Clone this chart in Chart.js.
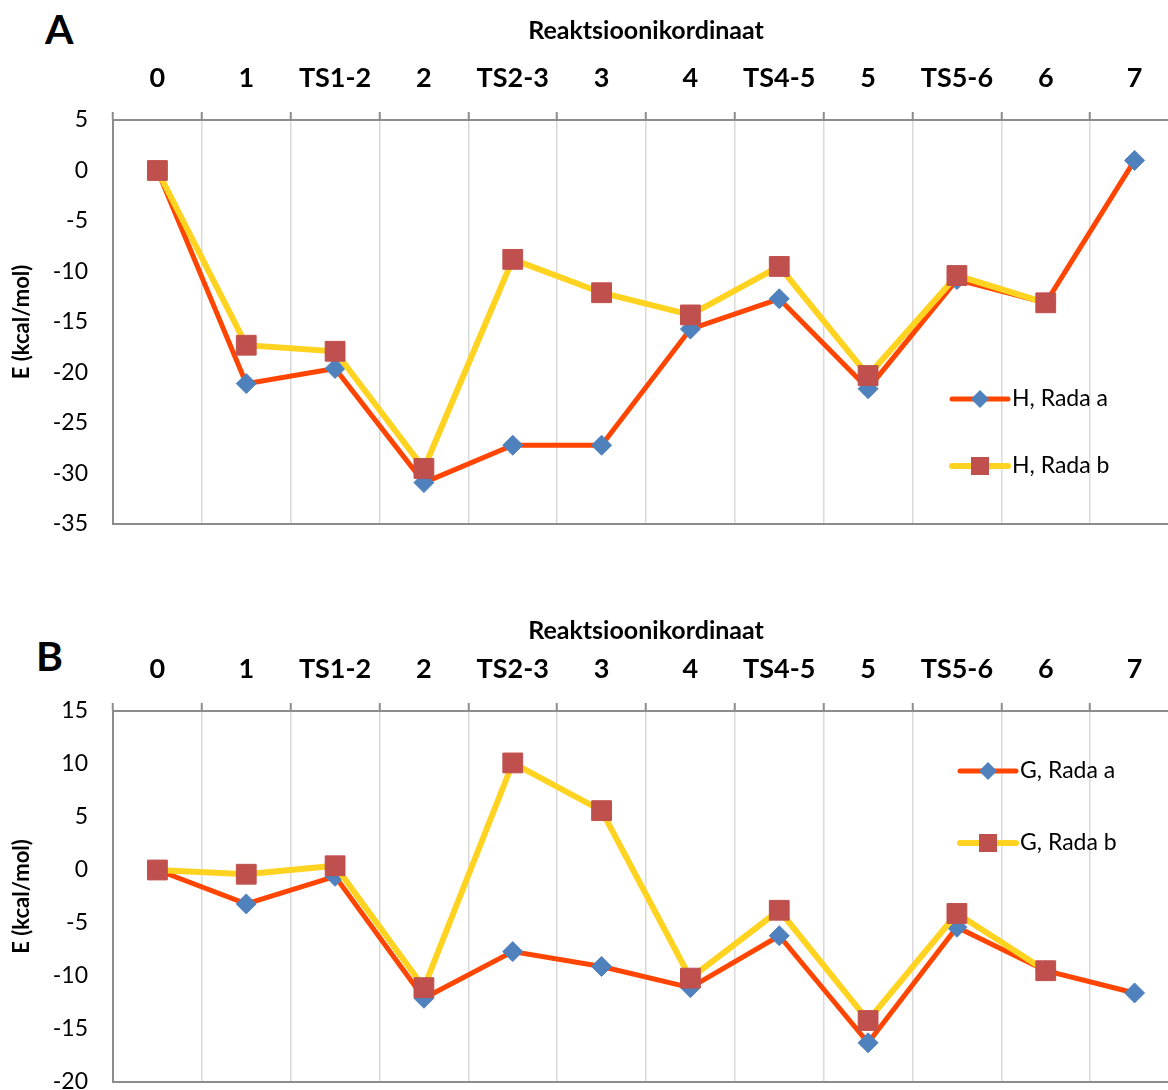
<!DOCTYPE html>
<html>
<head>
  <title>Reaktsioonikordinaat</title>
  <script src="https://cdn.jsdelivr.net/npm/chart.js@4/dist/chart.umd.min.js"></script>
  <style>
    html, body { margin: 0; padding: 0; background: #fff; overflow: hidden; }
    #wrap { position: relative; width: 1168px; height: 1090px; overflow: hidden; }
    canvas { position: absolute; left: 0; }
    .panel { position: absolute; font-family: Lato, sans-serif; font-weight: bold; font-size: 41px; line-height: 1; color: #000; }
  </style>
</head>
<body>
<div id="wrap">
  <div class="panel" style="left:45px; top:8px;">A</div>
  <canvas id="chartA" width="1180" height="545" style="top:0px"></canvas>
  <div class="panel" style="left:36px; top:635px;">B</div>
  <canvas id="chartB" width="1180" height="490" style="top:600px"></canvas>
</div>
<script>
  // reaction coordinate
  var steps = ['0', '1', 'TS1-2', '2', 'TS2-3', '3', '4', 'TS4-5', '5', 'TS5-6', '6', '7'];

  // enthalpy, kcal/mol
  var hRadaA = [0, -21.1, -19.6, -30.9, -27.2, -27.2, -15.7, -12.7, -21.6, -10.8, -13.1, 1.0];
  var hRadaB = [0, -17.3, -17.9, -29.5, -8.8, -12.1, -14.3, -9.5, -20.3, -10.4, -13.1, null];

  // free energy, kcal/mol
  var gRadaA = [0, -3.2, -0.6, -12.1, -7.7, -9.1, -11.1, -6.2, -16.3, -5.4, -9.5, -11.6];
  var gRadaB = [0, -0.4, 0.4, -11.1, 10.1, 5.6, -10.2, -3.8, -14.2, -4.1, -9.5, null];

  var axisGrey = '#8c8c8c';
  var lineA = '#FF4500', lineB = '#FFD320';
  var dotA = '#4F81BD', dotB = '#C0504D';

  // draws the frame bottom and the legend inside the plot
  var extras = {
    id: 'extras',
    afterDraw(chart, args, opts) {
      var ctx = chart.ctx, area = chart.chartArea;
      ctx.save();
      ctx.strokeStyle = axisGrey;
      ctx.lineWidth = 2;
      ctx.beginPath();
      ctx.moveTo(area.left, area.bottom);
      ctx.lineTo(area.right, area.bottom);
      ctx.stroke();

      chart.data.datasets.forEach(function(ds) {
        var y = opts.ys[ds.legendRow];
        ctx.strokeStyle = ds.borderColor;
        ctx.lineWidth = ds.borderWidth;
        ctx.lineCap = 'round';
        ctx.beginPath();
        ctx.moveTo(opts.x, y);
        ctx.lineTo(opts.x + 56, y);
        ctx.stroke();
        var cx = opts.x + 28;
        ctx.fillStyle = ds.pointBackgroundColor;
        ctx.beginPath();
        if (ds.pointStyle === 'rectRot') {
          ctx.moveTo(cx - 9, y); ctx.lineTo(cx, y - 9); ctx.lineTo(cx + 9, y); ctx.lineTo(cx, y + 9);
          ctx.closePath();
        } else {
          ctx.rect(cx - 9, y - 9, 18, 18);
        }
        ctx.fill();
        ctx.fillStyle = '#000';
        ctx.font = '23px Lato';
        ctx.textBaseline = 'middle';
        ctx.fillText(ds.label, opts.x + 60, y);
      });
      ctx.restore();
    }
  };

  function makeChart(id, seriesA, seriesB, nameA, nameB, yMin, yMax, axisH, legend) {
    return new Chart(document.getElementById(id), {
      type: 'line',
      data: {
        labels: steps,
        datasets: [{
          label: nameA,
          data: seriesA,
          order: 2,
          legendRow: 0,
          borderColor: lineA,
          borderWidth: 5,
          pointStyle: 'rectRot',
          pointRadius: 10,
          pointBorderWidth: 1,
          pointBackgroundColor: dotA,
          pointBorderColor: dotA,
          tension: 0
        }, {
          label: nameB,
          data: seriesB,
          order: 1,
          legendRow: 1,
          borderColor: lineB,
          borderWidth: 6,
          pointStyle: 'rect',
          pointRadius: 14,
          pointBorderWidth: 1,
          pointBackgroundColor: dotB,
          pointBorderColor: dotB,
          tension: 0
        }]
      },
      options: {
        responsive: false,
        animation: false,
        layout: { autoPadding: false, padding: { top: 0, left: 0, right: 1, bottom: legend.bottom } },
        plugins: {
          legend: { display: false },
          tooltip: { enabled: false },
          extras: legend
        },
        scales: {
          x: {
            position: 'top',
            offset: true,
            afterFit: function(s) { s.height = axisH; },
            grid: { offset: true, color: '#d9d9d9', lineWidth: 1.5, tickColor: axisGrey, tickWidth: 2, tickLength: 8 },
            border: { color: axisGrey, width: 2 },
            ticks: { color: '#000', padding: 18, font: { family: 'Lato', weight: 'bold', size: 27 } },
            title: {
              display: true,
              text: 'Reaktsioonikordinaat',
              color: '#000',
              padding: { top: 16, bottom: 0 },
              font: { family: 'Lato', weight: 'bold', size: 25 }
            }
          },
          y: {
            min: yMin,
            max: yMax,
            afterFit: function(s) { s.width = 113; s.paddingTop = 0; s.paddingBottom = 0; },
            grid: { display: false, drawTicks: false },
            border: { color: axisGrey, width: 2 },
            ticks: { stepSize: 5, color: '#000', padding: 25, font: { family: 'Lato', size: 23 } },
            title: {
              display: true,
              text: 'E (kcal/mol)',
              color: '#000',
              padding: { top: 9, bottom: 0 },
              font: { family: 'Lato', weight: 'bold', size: 22 }
            }
          }
        }
      },
      plugins: [extras]
    });
  }

  makeChart('chartA', hRadaA, hRadaB, 'H, Rada a', 'H, Rada b', -35, 5, 120,
    { x: 952, ys: [399, 466], bottom: 21 });
  makeChart('chartB', gRadaA, gRadaB, 'G, Rada a', 'G, Rada b', -20, 15, 111,
    { x: 960, ys: [171, 243], bottom: 8 });
</script>
</body>
</html>
